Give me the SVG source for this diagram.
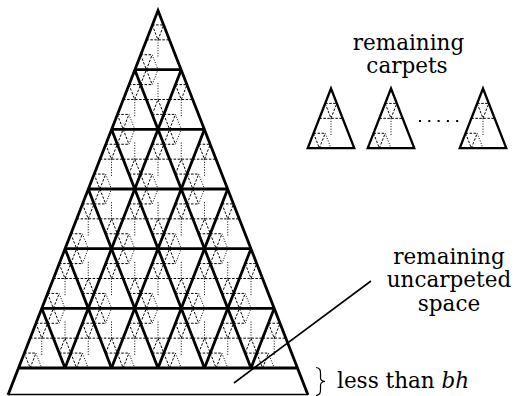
<svg xmlns="http://www.w3.org/2000/svg" xmlns:xlink="http://www.w3.org/1999/xlink" width="515" height="396" viewBox="0 0 515 396">
<style>
.thick{fill:none;stroke:#000;stroke-width:2.8;stroke-linejoin:miter;stroke-linecap:butt}
.thin{fill:none;stroke:#000;stroke-width:1.6}
.dash{fill:none;stroke:#000;stroke-width:1;stroke-dasharray:2.5 1.5}
.dot{fill:none;stroke:#000;stroke-width:1;stroke-dasharray:1 1.6}
.lbl{font-family:"DejaVu Serif","Liberation Serif",serif;font-size:21.5px;fill:#000}
</style>
<defs>
<g id="cp">
<path class="dash" d="M-5.81 14.92H5.81M-11.63 29.83H11.63M-5.81 14.92L0 29.83L5.81 14.92M-17.44 44.75H-5.81M-17.44 44.75L-11.63 59.67L-5.81 44.75"/>
<path class="dot" d="M0 29.83V47.7M-5.81 44.75L0 59.67"/>
</g>
</defs>
<rect width="515" height="396" fill="#fff"/>
<g id="big-triangle">
<g id="patterns">
<use xlink:href="#cp" transform="translate(158,10)"/>
<use xlink:href="#cp" transform="translate(134.75,69.67)"/>
<use xlink:href="#cp" transform="translate(181.25,69.67)"/>
<use xlink:href="#cp" transform="translate(111.5,129.33)"/>
<use xlink:href="#cp" transform="translate(158,129.33)"/>
<use xlink:href="#cp" transform="translate(204.5,129.33)"/>
<use xlink:href="#cp" transform="translate(88.25,189)"/>
<use xlink:href="#cp" transform="translate(134.75,189)"/>
<use xlink:href="#cp" transform="translate(181.25,189)"/>
<use xlink:href="#cp" transform="translate(227.75,189)"/>
<use xlink:href="#cp" transform="translate(65,248.67)"/>
<use xlink:href="#cp" transform="translate(111.5,248.67)"/>
<use xlink:href="#cp" transform="translate(158,248.67)"/>
<use xlink:href="#cp" transform="translate(204.5,248.67)"/>
<use xlink:href="#cp" transform="translate(251,248.67)"/>
<use xlink:href="#cp" transform="translate(41.75,308.33)"/>
<use xlink:href="#cp" transform="translate(88.25,308.33)"/>
<use xlink:href="#cp" transform="translate(134.75,308.33)"/>
<use xlink:href="#cp" transform="translate(181.25,308.33)"/>
<use xlink:href="#cp" transform="translate(227.75,308.33)"/>
<use xlink:href="#cp" transform="translate(274.25,308.33)"/>
<use xlink:href="#cp" transform="translate(158,129.33) scale(1,-1)"/>
<use xlink:href="#cp" transform="translate(134.75,189) scale(1,-1)"/>
<use xlink:href="#cp" transform="translate(181.25,189) scale(1,-1)"/>
<use xlink:href="#cp" transform="translate(111.5,248.67) scale(1,-1)"/>
<use xlink:href="#cp" transform="translate(158,248.67) scale(1,-1)"/>
<use xlink:href="#cp" transform="translate(204.5,248.67) scale(1,-1)"/>
<use xlink:href="#cp" transform="translate(88.25,308.33) scale(1,-1)"/>
<use xlink:href="#cp" transform="translate(134.75,308.33) scale(1,-1)"/>
<use xlink:href="#cp" transform="translate(181.25,308.33) scale(1,-1)"/>
<use xlink:href="#cp" transform="translate(227.75,308.33) scale(1,-1)"/>
<use xlink:href="#cp" transform="translate(65,368) scale(1,-1)"/>
<use xlink:href="#cp" transform="translate(111.5,368) scale(1,-1)"/>
<use xlink:href="#cp" transform="translate(158,368) scale(1,-1)"/>
<use xlink:href="#cp" transform="translate(204.5,368) scale(1,-1)"/>
<use xlink:href="#cp" transform="translate(251,368) scale(1,-1)"/>
</g>
<path class="thick" d="M134.75 69.67H181.25M111.5 129.33H204.5M88.25 189H227.75M65 248.67H251M41.75 308.33H274.25M18.5 368H297.5"/>
<path class="thick" d="M181.25 69.67L65 368M204.5 129.33L111.5 368M227.75 189L158 368M251 248.67L204.5 368M274.25 308.33L251 368"/>
<path class="thick" d="M134.75 69.67L251 368M111.5 129.33L204.5 368M88.25 189L158 368M65 248.67L111.5 368M41.75 308.33L65 368"/>
<path class="thick" d="M8 395L158 10.5L308 395"/>
<path class="thin" d="M8 394.5H308"/>
</g>
<g id="carpet-1">
<use xlink:href="#cp" transform="translate(331,88.5)"/>
<path class="thick" style="stroke-width:2.3" d="M331 88.5L354.25 148.17H307.75Z"/>
</g>
<g id="carpet-2">
<use xlink:href="#cp" transform="translate(391,88.5)"/>
<path class="thick" style="stroke-width:2.3" d="M391 88.5L414.25 148.17H367.75Z"/>
</g>
<g id="carpet-3">
<use xlink:href="#cp" transform="translate(483,88.5)"/>
<path class="thick" style="stroke-width:2.3" d="M483 88.5L506.25 148.17H459.75Z"/>
</g>
<g id="ellipsis" fill="#000">
<rect x="419" y="120" width="2" height="2"/>
<rect x="428.3" y="120" width="2" height="2"/>
<rect x="437.6" y="120" width="2" height="2"/>
<rect x="446.9" y="120" width="2" height="2"/>
<rect x="456.2" y="120" width="2" height="2"/>
</g>
<g id="label-carpets" class="lbl" text-anchor="middle">
<text x="408.5" y="50">remaining</text>
<text x="407" y="73">carpets</text>
</g>
<g id="label-uncarpeted" class="lbl" text-anchor="middle">
<text x="449" y="263.5">remaining</text>
<text x="449" y="287">uncarpeted</text>
<text x="449" y="310.5">space</text>
</g>
<g id="connectors">
<path d="M234 383L371 281" fill="none" stroke="#000" stroke-width="1.6"/>
<path d="M316 367.5C320 368 320.5 370 320.5 373.5V377.5C320.5 380 322 381.3 325 381.5C322 381.7 320.5 383 320.5 385.5V389.5C320.5 393 320 395 316 395.5" fill="none" stroke="#000" stroke-width="1.2"/>
</g>
<g id="label-less" class="lbl">
<text x="337" y="388">less than <tspan font-style="italic">bh</tspan></text>
</g>
</svg>
